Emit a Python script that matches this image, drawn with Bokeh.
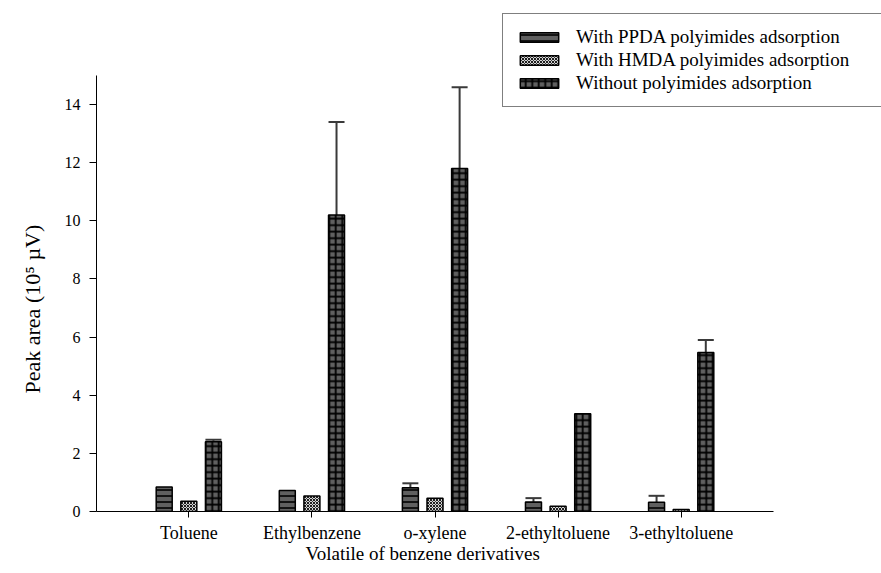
from bokeh.plotting import figure
from bokeh.models import (Range1d, FixedTicker, ColumnDataSource, Whisker,
                          TeeHead, Legend, LegendItem, Title)
from bokeh.embed import file_html
from bokeh.resources import INLINE
import numpy as np

# Peak areas (10^5 uV) of each volatile, with upper standard deviations
categories = ["Toluene", "Ethylbenzene", "o-xylene", "2-ethyltoluene", "3-ethyltoluene"]
ppda = [0.84, 0.72, 0.82, 0.33, 0.32]
ppda_err = [0.0, 0.0, 0.15, 0.13, 0.22]
hmda = [0.35, 0.53, 0.46, 0.18, 0.07]
hmda_err = [0.0, 0.0, 0.0, 0.0, 0.0]
without = [2.40, 10.2, 11.8, 3.36, 5.47]
without_err = [0.07, 3.2, 2.8, 0.0, 0.43]
series_names = ["With PPDA polyimides adsorption",
                "With HMDA polyimides adsorption",
                "Without polyimides adsorption"]
y_ticks = [0, 2, 4, 6, 8, 10, 12, 14]

FONT = "Liberation Serif"
idx = np.arange(len(categories))
bar_w = 0.13
offsets = [-0.2, 0.0, 0.2]

# axes span x in [-0.75, 4.75] and y in [0, 15]; the frame itself reaches the
# top and right edges of the canvas so the legend box is not clipped
X0, X1 = -0.75, 4.75
Y0, Y1 = 0.0, 15.0
frame_w, frame_h = 785, 511
axis_px_w, axis_px_h = 677, 436
x_end = X0 + (X1 - X0) * frame_w / axis_px_w
y_end = Y0 + (Y1 - Y0) * frame_h / axis_px_h

p = figure(frame_width=frame_w, frame_height=frame_h,
           min_border_left=96, min_border_right=0,
           min_border_top=0, min_border_bottom=62,
           x_range=Range1d(X0, x_end), y_range=Range1d(Y0, y_end),
           output_backend="svg", toolbar_location=None,
           background_fill_color="white", border_fill_color="white")
p.outline_line_color = None
p.xgrid.visible = False
p.ygrid.visible = False

styles = [
    dict(fill_color="#606060", hatch_pattern="horizontal_line", hatch_scale=6,
         hatch_weight=1.6, hatch_color="black"),
    dict(fill_color="#d4d4d4", hatch_pattern="diagonal_cross", hatch_scale=3,
         hatch_weight=1.0, hatch_color="#1e1e1e"),
    dict(fill_color="#606060", hatch_pattern="cross", hatch_scale=6.5,
         hatch_weight=1.8, hatch_color="black"),
]

renderers = []
for vals, errs, off, st in zip([ppda, hmda, without], [ppda_err, hmda_err, without_err],
                               offsets, styles):
    src = ColumnDataSource(dict(x=idx + off, top=vals))
    r = p.vbar(x="x", top="top", width=bar_w, bottom=0, source=src,
               line_color="black", line_width=1.5, **st)
    renderers.append(r)
    keep = [i for i, e in enumerate(errs) if e > 0]
    if keep:
        esrc = ColumnDataSource(dict(
            x=[idx[i] + off for i in keep],
            lo=[vals[i] for i in keep],
            hi=[vals[i] + errs[i] for i in keep]))
        w = Whisker(base="x", lower="lo", upper="hi", source=esrc,
                    dimension="height", line_color="#3a3a3a", line_width=2,
                    lower_head=None,
                    upper_head=TeeHead(size=16, line_color="#3a3a3a", line_width=2))
        p.add_layout(w)

# axes
p.xaxis.ticker = FixedTicker(ticks=list(idx))
p.xaxis.major_label_overrides = {int(i): c for i, c in zip(idx, categories)}
p.xaxis.bounds = (X0, X1)
p.yaxis.ticker = FixedTicker(ticks=y_ticks)
p.yaxis.bounds = (Y0, Y1)
for ax in (p.xaxis[0], p.yaxis[0]):
    ax.minor_tick_line_color = None
    ax.major_tick_in = 0
    ax.axis_line_color = "black"
    ax.major_tick_line_color = "black"
    ax.major_label_text_font = FONT
    ax.major_label_text_color = "black"

p.xaxis.major_tick_out = 6
p.yaxis.major_tick_out = 7
p.xaxis.major_label_text_font_size = "18px"
p.yaxis.major_label_text_font_size = "16px"
p.xaxis.major_label_standoff = 5
p.yaxis.major_label_standoff = 9

# axis titles, placed along the drawn axis extent
xlab = Title(text="Volatile of  benzene derivatives", align="left", offset=209,
             standoff=-10, text_font=FONT, text_font_size="19px",
             text_font_style="normal", text_color="black")
ylab = Title(text="Peak area (10\u2075 \u00b5V)", align="left", offset=118,
             standoff=33, text_font=FONT, text_font_size="22px",
             text_font_style="normal", text_color="black")
p.add_layout(xlab, "below")
p.add_layout(ylab, "left")

legend = Legend(
    items=[LegendItem(label=n, renderers=[r]) for n, r in zip(series_names, renderers)],
    location=(406, 404),
    glyph_width=48, glyph_height=12, label_height=20, label_width=360,
    label_standoff=13, padding=12, spacing=1, margin=0,
    label_text_font=FONT, label_text_font_size="19px", label_text_color="black",
    border_line_color="black", border_line_width=1.5,
    background_fill_color="white", background_fill_alpha=1.0)
p.add_layout(legend, "center")

open("out.html", "w").write(file_html(p, INLINE))
